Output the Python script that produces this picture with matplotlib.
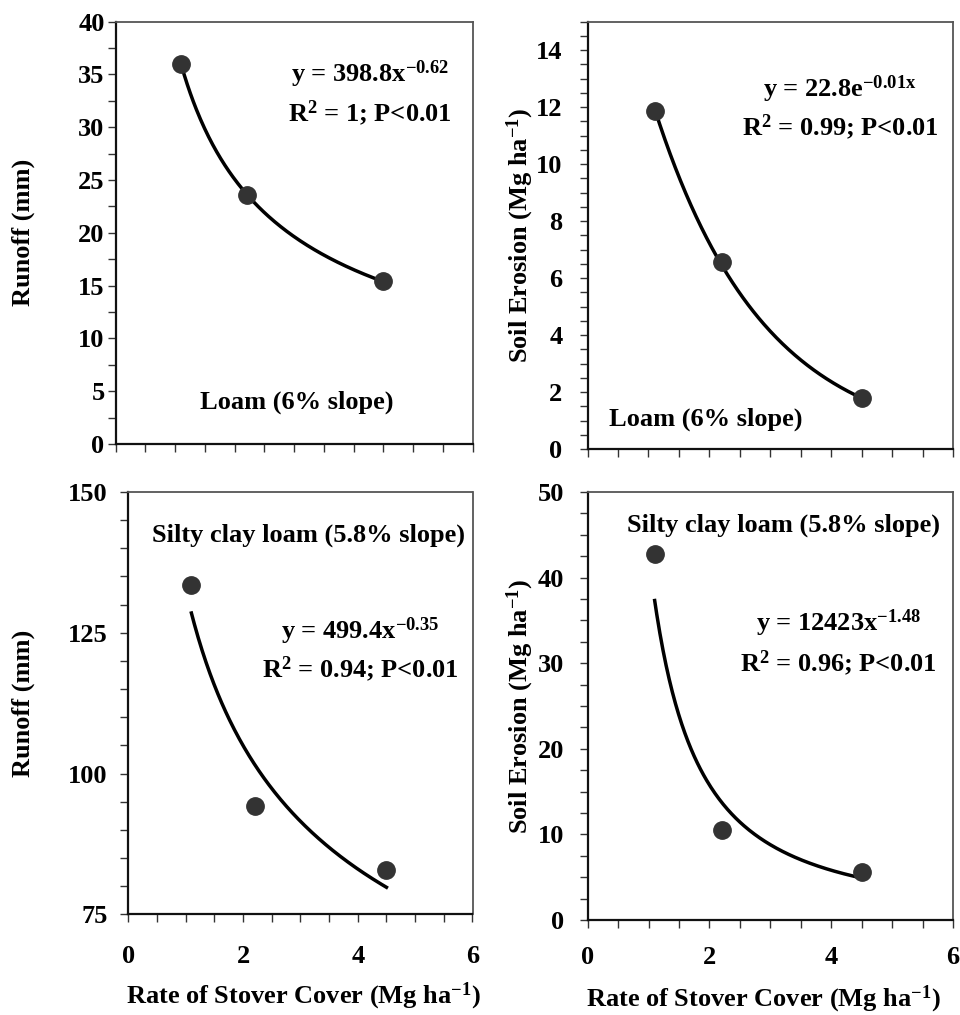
import numpy as np
import matplotlib
matplotlib.use("Agg")
import matplotlib.pyplot as plt
from matplotlib.ticker import MultipleLocator

plt.rcParams['font.family'] = ['Liberation Serif', 'DejaVu Serif']
plt.rcParams['font.weight'] = 'bold'
plt.rcParams['mathtext.fontset'] = 'custom'
plt.rcParams['mathtext.rm'] = 'Liberation Serif:bold'
plt.rcParams['mathtext.bf'] = 'Liberation Serif:bold'
plt.rcParams['mathtext.it'] = 'Liberation Serif:bold'
plt.rcParams['mathtext.default'] = 'rm'

# ---- data ----
stover_rate = [1.1, 2.2, 4.5]            # Mg ha-1
loam_runoff = [36.0, 23.6, 15.4]         # mm
loam_erosion = [11.85, 6.55, 1.78]       # Mg ha-1
scl_runoff = [133.5, 94.3, 82.8]         # mm
scl_erosion = [42.8, 10.5, 5.6]          # Mg ha-1

x_ticks = [0, 2, 4, 6]
x_label = "Rate of Stover Cover (Mg ha$^{-1}$)"
runoff_label = "Runoff (mm)"
erosion_label = "Soil Erosion (Mg ha$^{-1}$)"
loam_title = "Loam (6% slope)"
scl_title = "Silty clay loam (5.8% slope)"
eq_loam_runoff = ["y = 398.8x$^{-0.62}$", "R$^{2}$ = 1; P<0.01"]
eq_loam_erosion = ["y = 22.8e$^{-0.01x}$", "R$^{2}$ = 0.99; P<0.01"]
eq_scl_runoff = ["y = 499.4x$^{-0.35}$", "R$^{2}$ = 0.94; P<0.01"]
eq_scl_erosion = ["y = 12423x$^{-1.48}$", "R$^{2}$ = 0.96; P<0.01"]

W, H = 960, 1015
fig = plt.figure(figsize=(W / 100, H / 100), dpi=100)


def add_ax(l, r, t, b):
    return fig.add_axes([l / W, 1 - b / H, (r - l) / W, (b - t) / H])


def fit_curve(x, y, kind):
    x = np.asarray(x, float)
    y = np.asarray(y, float)
    xs = np.linspace(x.min(), x.max(), 200)
    if kind == 'power':
        b, a = np.polyfit(np.log(x), np.log(y), 1)
        return xs, np.exp(a) * xs ** b
    b, a = np.polyfit(x, np.log(y), 1)
    return xs, np.exp(a) * np.exp(b * xs)


def ftxt(px, py, s, size=19, **kw):
    fig.text(px / W, 1 - py / H, s, fontsize=size, fontweight='bold', **kw)


panels = [
    dict(rect=(115.7, 472.7, 21.7, 444.0), y=loam_runoff, kind='power',
         ylim=(0, 40), ymaj=5, ymin=2.5, ylab=runoff_label, ylab_x=23,
         xlabels=False, ypad=2, xpad=10),
    dict(rect=(587.5, 953.0, 21.7, 449.0), y=loam_erosion, kind='exp',
         ylim=(0, 15), ymaj=2, ymin=0.5, ylab=erosion_label, ylab_x=520,
         xlabels=False, ypad=12, xpad=10, ymaxtick=14),
    dict(rect=(128.3, 472.5, 492.0, 914.3), y=scl_runoff, kind='power',
         ylim=(75, 150), ymaj=25, ymin=5, ylab=runoff_label, ylab_x=23,
         xlabels=True, ypad=9, xpad=16),
    dict(rect=(587.7, 953.0, 492.0, 920.0), y=scl_erosion, kind='power',
         ylim=(0, 50), ymaj=10, ymin=2.5, ylab=erosion_label, ylab_x=520,
         xlabels=True, ypad=11, xpad=12.5),
]

for p in panels:
    l, r, t, b = p['rect']
    ax = add_ax(l, r, t, b)
    xs, ys = fit_curve(stover_rate, p['y'], p['kind'])
    ax.plot(xs, ys, color='black', lw=2.5, zorder=2)
    ax.plot(stover_rate, p['y'], 'o', color='#333333', ms=12.5, zorder=3,
            clip_on=False)
    ax.set_xlim(0, 6)
    ax.set_ylim(*p['ylim'])
    ax.xaxis.set_major_locator(MultipleLocator(2))
    ax.xaxis.set_minor_locator(MultipleLocator(0.5))
    ax.yaxis.set_major_locator(MultipleLocator(p['ymaj']))
    ax.yaxis.set_minor_locator(MultipleLocator(p['ymin']))
    if 'ymaxtick' in p:
        ax.set_yticks(np.arange(0, p['ymaxtick'] + 0.1, p['ymaj']))
    ax.tick_params(which='both', direction='out', length=6, width=1,
                   color='#333333', labelsize=19)
    ax.tick_params(axis='y', which='major', pad=p['ypad'])
    ax.tick_params(axis='x', which='major', pad=p['xpad'])
    if p['xlabels']:
        ax.set_xticks(x_ticks)
    else:
        ax.tick_params(axis='x', which='both', labelbottom=False)
    for lab in ax.get_xticklabels() + ax.get_yticklabels():
        lab.set_fontweight('bold')
    for s in ['left', 'bottom']:
        ax.spines[s].set_linewidth(1.6)
        ax.spines[s].set_color('#111111')
    for s in ['top', 'right']:
        ax.spines[s].set_linewidth(1.3)
        ax.spines[s].set_color('#555555')
    cy = (t + b) / 2
    ftxt(p['ylab_x'], cy, p['ylab'], rotation=90, ha='center', va='center')

# annotations (baselines)
ftxt(369.7, 81.7, eq_loam_runoff[0], ha='center', va='baseline')
ftxt(369.7, 121.7, eq_loam_runoff[1], ha='center', va='baseline')
ftxt(296.7, 408.3, loam_title, ha='center', va='baseline')

ftxt(840, 97, eq_loam_erosion[0], ha='center', va='baseline')
ftxt(840, 135, eq_loam_erosion[1], ha='center', va='baseline')
ftxt(705.7, 426, loam_title, ha='center', va='baseline')

ftxt(308.7, 541.3, scl_title, ha='center', va='baseline')
ftxt(360.4, 639, eq_scl_runoff[0], ha='center', va='baseline')
ftxt(360, 676.9, eq_scl_runoff[1], ha='center', va='baseline')

ftxt(783.3, 531.9, scl_title, ha='center', va='baseline')
ftxt(838.7, 630.6, eq_scl_erosion[0], ha='center', va='baseline')
ftxt(838.3, 671.7, eq_scl_erosion[1], ha='center', va='baseline')

ftxt(303.3, 996, x_label, ha='center', va='center')
ftxt(763.3, 999, x_label, ha='center', va='center')

fig.savefig("out.png", dpi=100)
